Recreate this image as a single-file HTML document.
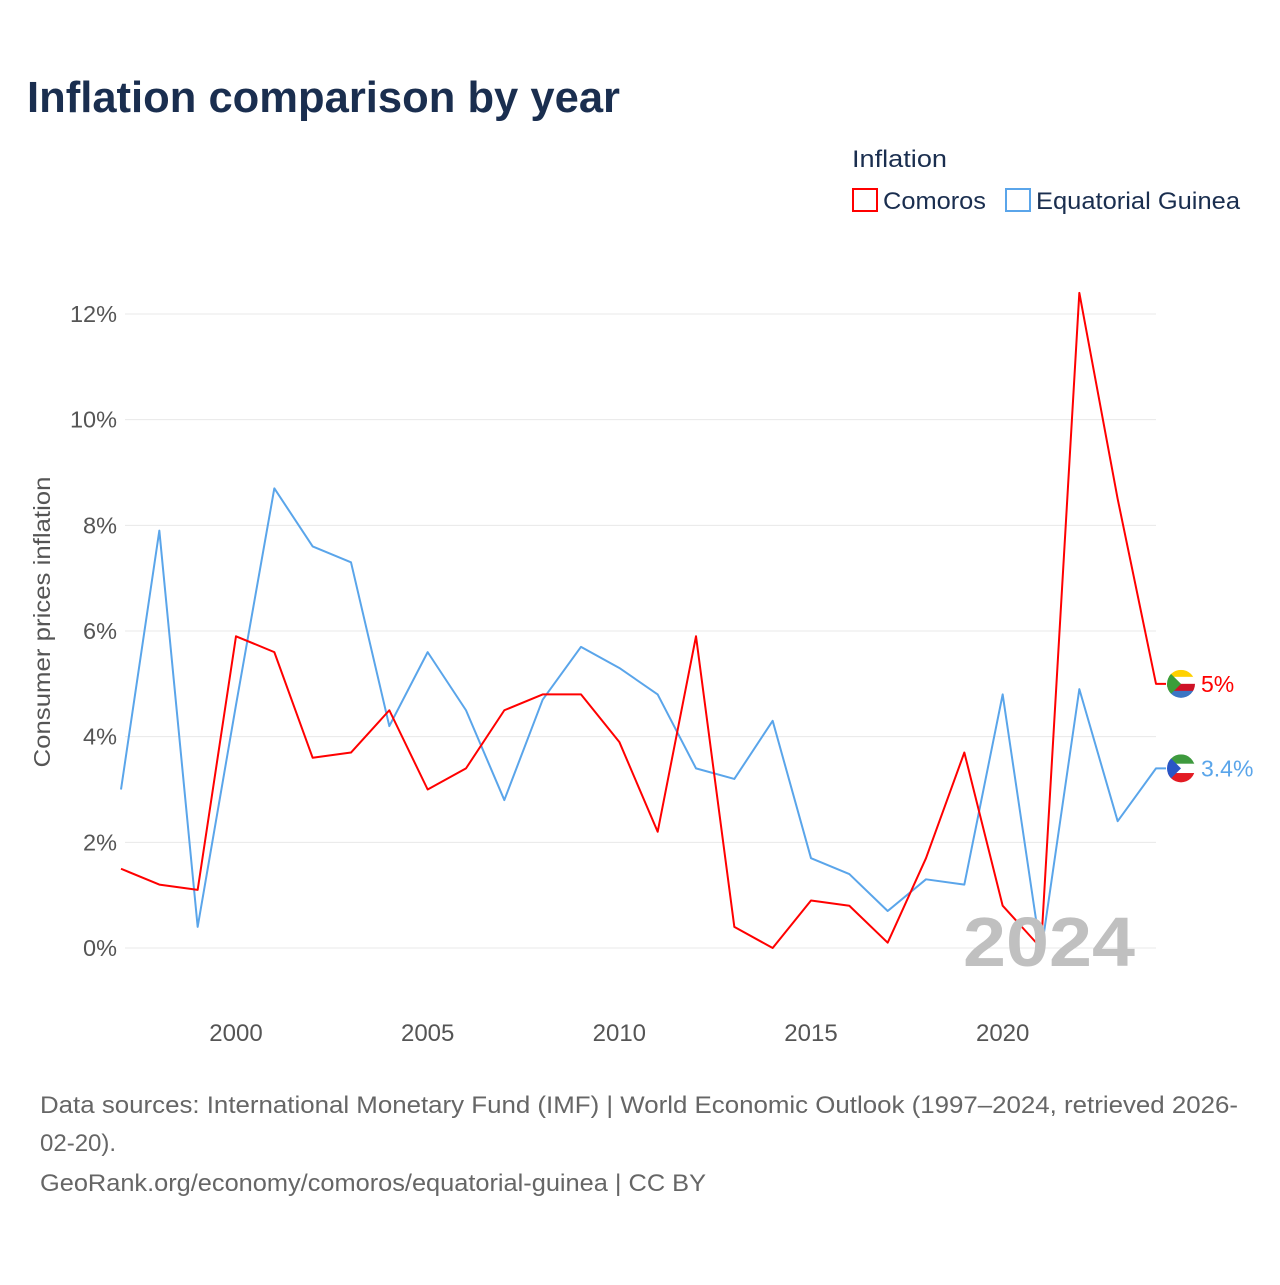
<!DOCTYPE html>
<html><head><meta charset="utf-8"><style>
body{margin:0;background:#fff;width:1280px;height:1280px;overflow:hidden;font-family:"Liberation Sans",sans-serif}
</style></head><body>
<svg width="1280" height="1280" xmlns="http://www.w3.org/2000/svg" font-family="Liberation Sans, sans-serif">
<text x="27" y="112" font-size="44" font-weight="bold" fill="#1a2e4f" textLength="593" lengthAdjust="spacingAndGlyphs">Inflation comparison by year</text>
<text x="852" y="167" font-size="24" fill="#1a2e4f" textLength="95" lengthAdjust="spacingAndGlyphs">Inflation</text>
<g><rect x="853" y="189" width="24" height="22" fill="none" stroke="#f00" stroke-width="2"/><text x="883" y="209" font-size="24" fill="#1a2e4f" textLength="103" lengthAdjust="spacingAndGlyphs">Comoros</text></g>
<g><rect x="1006" y="189" width="24" height="22" fill="none" stroke="#5aa5ea" stroke-width="2"/><text x="1036" y="209" font-size="24" fill="#1a2e4f" textLength="204" lengthAdjust="spacingAndGlyphs">Equatorial Guinea</text></g>
<g id="grid"></g><g id="yt"></g><g id="xt"></g><g id="series"></g>
<text transform="translate(50,622) rotate(-90)" text-anchor="middle" font-size="23" fill="#555" textLength="291" lengthAdjust="spacingAndGlyphs">Consumer prices inflation</text>
<text x="963" y="966" font-size="70" font-weight="bold" fill="#c0c0c0" textLength="172" lengthAdjust="spacingAndGlyphs">2024</text>
<text x="40" y="1113" font-size="24" fill="#666" textLength="1198" lengthAdjust="spacingAndGlyphs">Data sources: International Monetary Fund (IMF) | World Economic Outlook (1997–2024, retrieved 2026-</text>
<text x="40" y="1151" font-size="24" fill="#666">02-20).</text>
<text x="40" y="1191" font-size="24" fill="#666" textLength="666" lengthAdjust="spacingAndGlyphs">GeoRank.org/economy/comoros/equatorial-guinea | CC BY</text>
</svg>
<script>
const years=[1997,1998,1999,2000,2001,2002,2003,2004,2005,2006,2007,2008,2009,2010,2011,2012,2013,2014,2015,2016,2017,2018,2019,2020,2021,2022,2023,2024];
const comoros=[1.5,1.2,1.1,5.9,5.6,3.6,3.7,4.5,3.0,3.4,4.5,4.8,4.8,3.9,2.2,5.9,0.4,0.0,0.9,0.8,0.1,1.7,3.7,0.8,0.0,12.4,8.5,5.0];
const eqGuinea=[3.0,7.9,0.4,4.6,8.7,7.6,7.3,4.2,5.6,4.5,2.8,4.7,5.7,5.3,4.8,3.4,3.2,4.3,1.7,1.4,0.7,1.3,1.2,4.8,-0.1,4.9,2.4,3.4];
const yTicks=[0,2,4,6,8,10,12];
const xTicks=[2000,2005,2010,2015,2020];
const NS="http://www.w3.org/2000/svg";
const X=y=>121+(y-1997)*(1156-121)/27;
const Y=v=>948-v*(948-314)/12;
function mk(t,a,p){const e=document.createElementNS(NS,t);for(const k in a)e.setAttribute(k,a[k]);document.getElementById(p).appendChild(e);return e;}
yTicks.forEach(v=>{
 const l=mk('line',{x1:125,x2:1156,y1:Y(v),y2:Y(v),stroke:'#e8e8e8','stroke-width':1},'grid');
 
 
 const t=mk('text',{x:117,y:Y(v)+8,'text-anchor':'end','font-size':23.5,fill:'#555'},'yt');
 t.textContent=v+'%';
 
 
});
xTicks.forEach(v=>{
 const t=mk('text',{x:X(v),y:1041,'text-anchor':'middle','font-size':24,fill:'#555'},'xt');
 t.textContent=v;
 
 
});
function series(vals,color,name,label,flag){
 let d=vals.map((v,i)=>(i?'L':'M')+X(years[i])+','+Y(v)).join(' ');
 const last=vals[vals.length-1];
 d+=' L1166,'+Y(last);
 const p=mk('path',{d:d,fill:'none',stroke:color,'stroke-width':2,'stroke-linejoin':'round'},'series');
 
 
 const g=mk('g',{},'series');
 
 
 const cy=Y(last),cx=1181;
 flag.forEach((c,i)=>{const h=28/flag.length;const r=document.createElementNS(NS,'rect');r.setAttribute('x',cx-14);r.setAttribute('y',cy-14+i*h);r.setAttribute('width',28);r.setAttribute('height',h+0.5);r.setAttribute('fill',c);g.appendChild(r);});
 const cp=document.createElementNS(NS,'clipPath');cp.id='c'+name;const cc=document.createElementNS(NS,'circle');cc.setAttribute('cx',cx);cc.setAttribute('cy',cy);cc.setAttribute('r',14);cp.appendChild(cc);g.appendChild(cp);
 g.setAttribute('clip-path','url(#c'+name+')');
 const tri=document.createElementNS(NS,'path');tri.setAttribute('d',`M${cx-14},${cy-14} L${cx},${cy} L${cx-14},${cy+14}Z`);tri.setAttribute('fill',name==='comoros'?'#3a9e3a':'#2a56c6');g.appendChild(tri);
 const t=mk('text',{x:1201,y:cy+8,'font-size':23,fill:color},'series');
 t.textContent=label;
 
 
}
series(eqGuinea,'#5aa5ea','equatorial-guinea','3.4%',['#3e9a3e','#ffffff','#e31b23']);
series(comoros,'#ff0000','comoros','5%',['#ffd100','#ffffff','#ce1126','#3a75c4']);
</script>
</body></html>
